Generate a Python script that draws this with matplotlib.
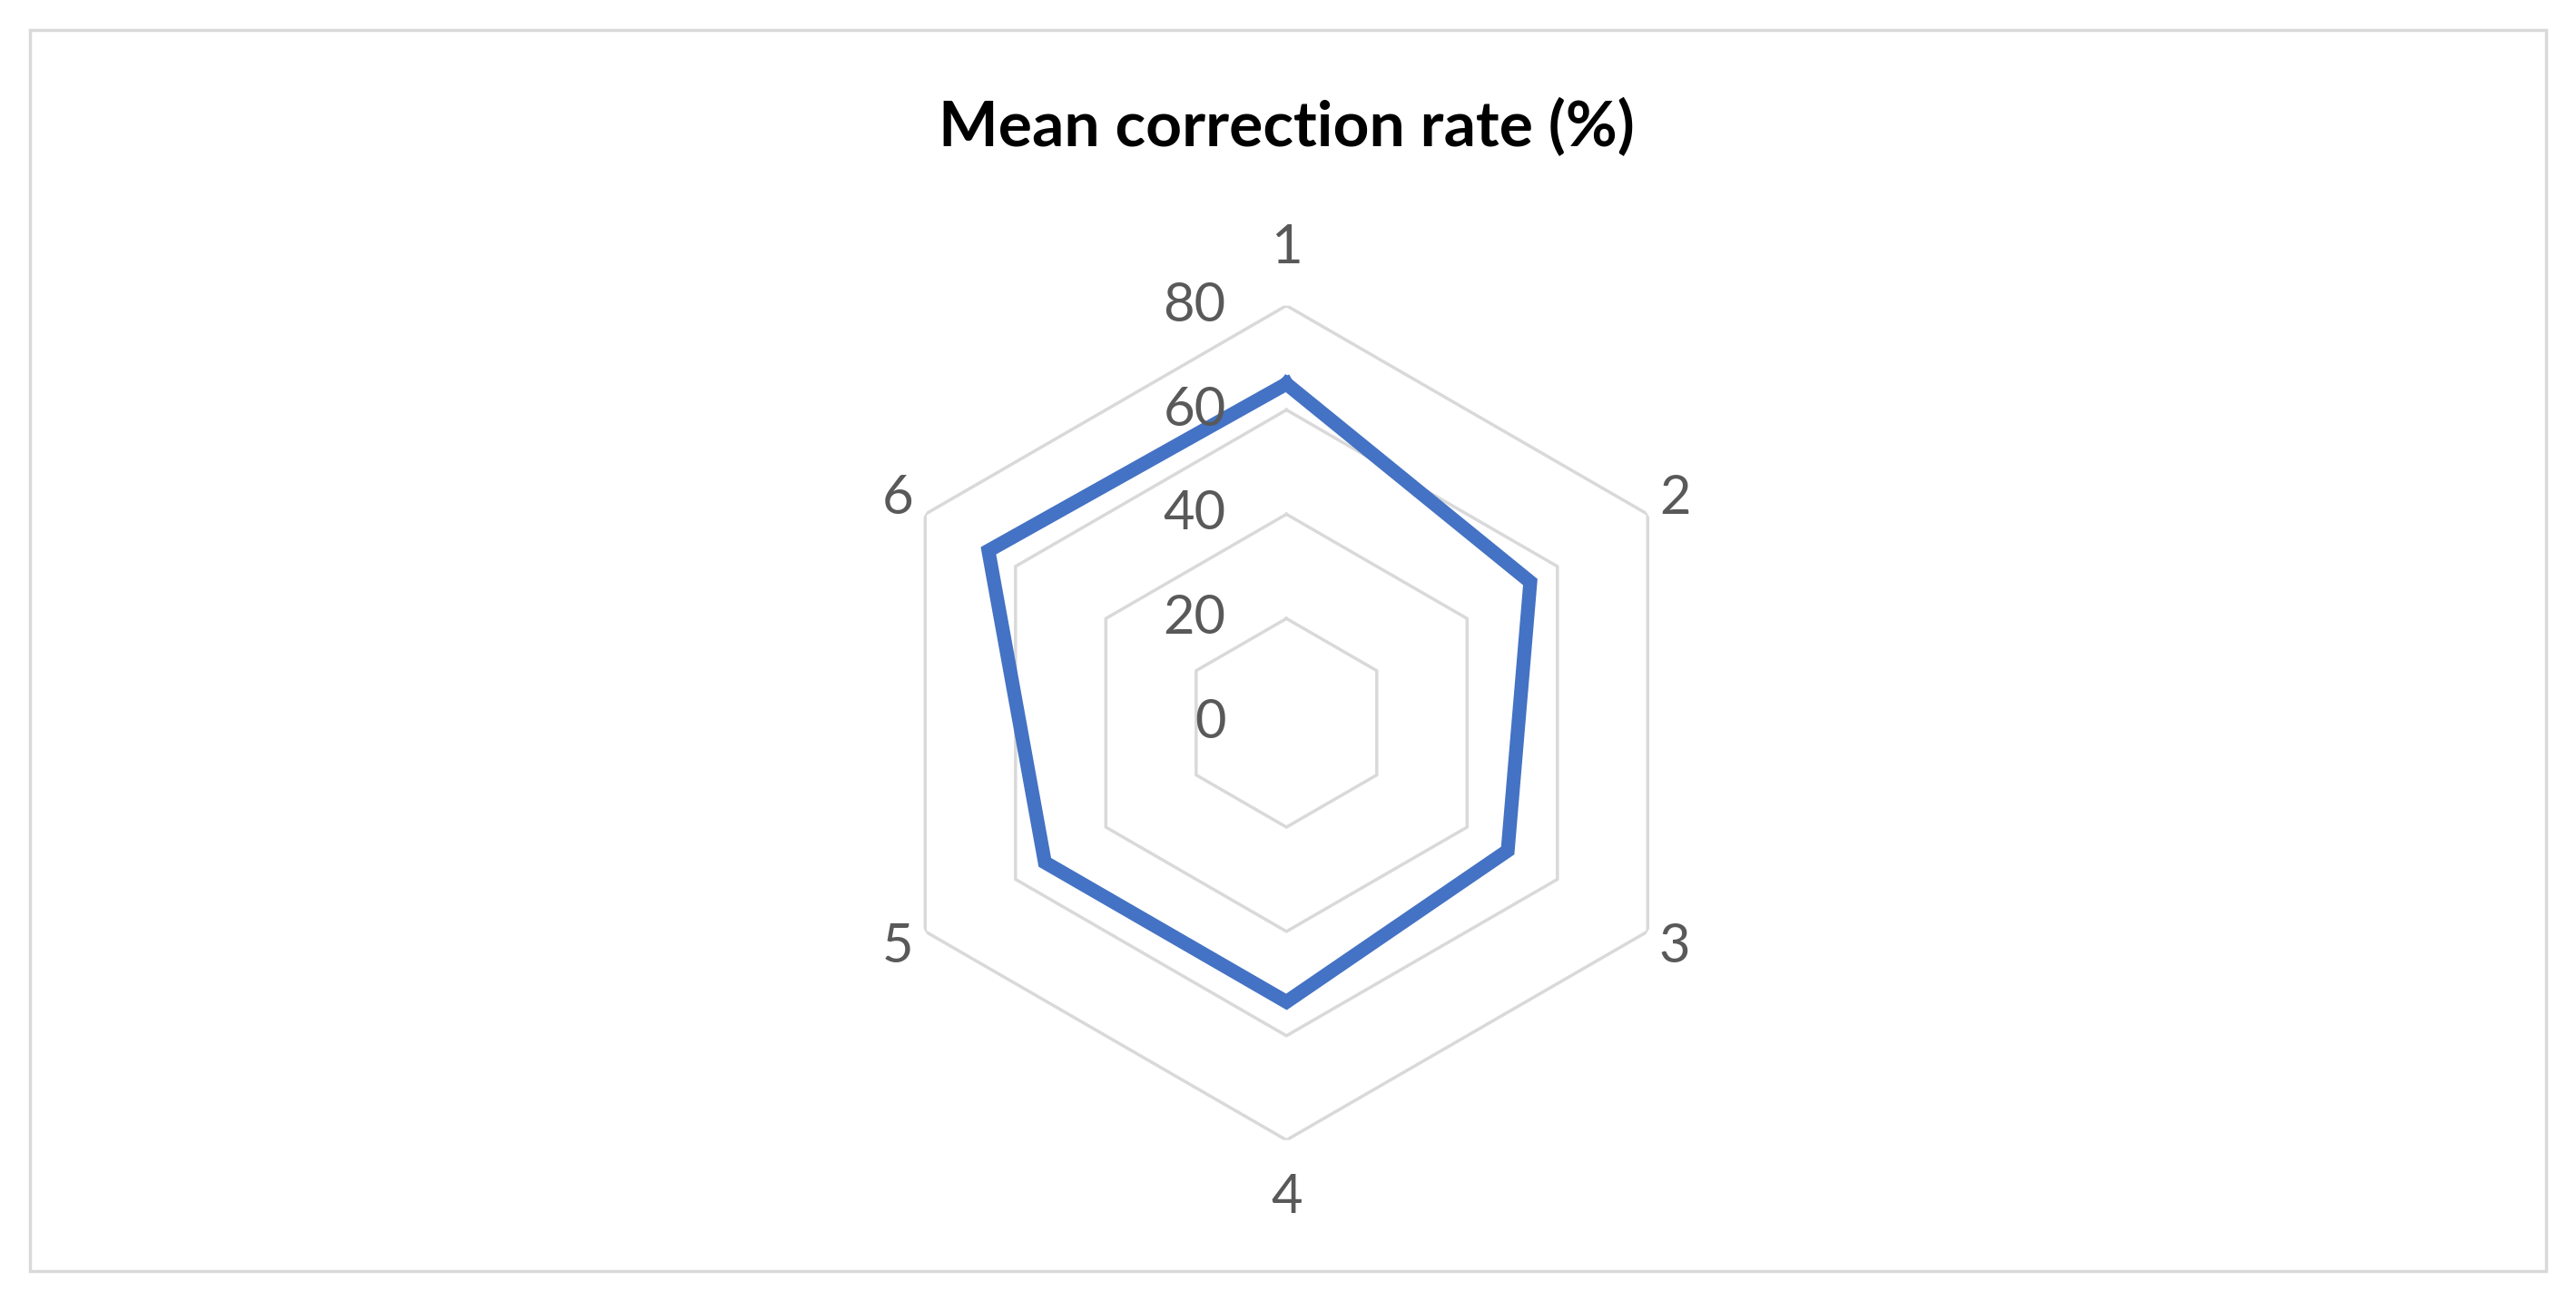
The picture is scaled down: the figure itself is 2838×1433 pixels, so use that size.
import numpy as np
import matplotlib.pyplot as plt
import matplotlib.transforms as mtransforms
from matplotlib.patches import Rectangle

categories = ['1', '2', '3', '4', '5', '6']
values = [65, 54, 49, 53.5, 53.5, 66]
levels = [20, 40, 60, 80]
tick_labels = ['0', '20', '40', '60', '80']

plt.rcParams['font.family'] = ['Lato', 'DejaVu Sans']

fig = plt.figure(figsize=(28.38, 14.33), dpi=100)
fig.patches.append(Rectangle((0.0115, 0.023), 0.977, 0.954, transform=fig.transFigure,
                             fill=False, edgecolor='#D9D9D9', linewidth=2.5))

h = 0.6414
w = h * 1433 / 2838
ax = fig.add_axes([0.4994 - w / 2, 0.4444 - h / 2, w, h], projection='polar')
ax.set_theta_offset(np.pi / 2)
ax.set_theta_direction(-1)
ax.set_ylim(0, 80)
ax.axis('off')

n = len(categories)
angles = np.linspace(0, 2 * np.pi, n, endpoint=False)
closed = np.append(angles, angles[0])

for lv in levels:
    ax.plot(closed, [lv] * (n + 1), color='#D9D9D9', linewidth=2.5, zorder=1)

ax.plot(closed, values + values[:1], color='#4472C4', linewidth=11,
        solid_joinstyle='miter', zorder=3)

for ang, cat in zip(angles, categories):
    r = 91 if cat in ('1', '4') else 86
    ax.text(ang, r, cat, ha='center', va='center', fontsize=43, color='#595959')

off = mtransforms.offset_copy(ax.transData, fig=fig, x=-48, y=0, units='points')
for i, lab in enumerate(tick_labels):
    ax.text(0, i * 20, lab, ha='right', va='center', fontsize=43, color='#595959',
            transform=off)

fig.text(0.4994, 0.902, 'Mean correction rate (%)', ha='center', va='center',
         fontsize=50, fontweight='bold', color='black')

fig.savefig('out.png', dpi=100)
